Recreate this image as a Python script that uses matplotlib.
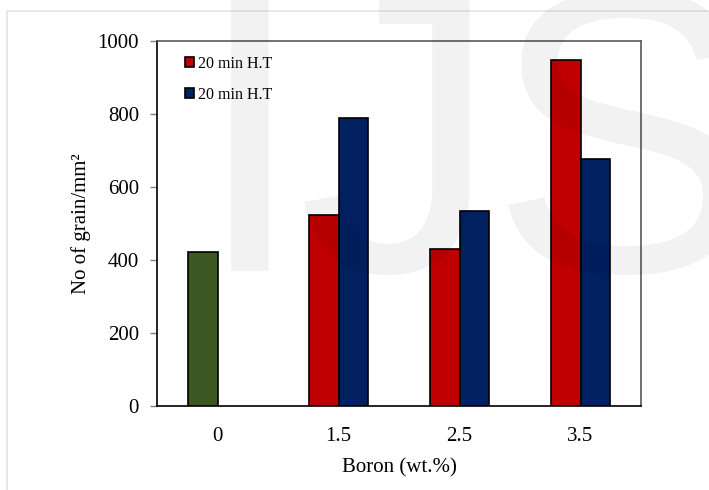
import matplotlib
matplotlib.use("Agg")
import matplotlib.pyplot as plt
from matplotlib.patches import Patch, Rectangle
import numpy as np

categories = ["0", "1.5", "2.5", "3.5"]
series_a = [423, 523, 429, 949]   # first series (green at 0, red elsewhere)
series_b = [np.nan, 790, 534, 676]
legend_labels = ["20 min H.T", "20 min H.T"]
yticks = [0, 200, 400, 600, 800, 1000]

GREEN = "#3A5724"
RED = "#C00000"
BLUE = "#002060"

plt.rcParams['font.family'] = ['Liberation Serif', 'DejaVu Serif']

fig = plt.figure(figsize=(7.09, 4.90), dpi=100)
ax = fig.add_axes([157/709, 84/490, 484/709, 365/490])

x = np.arange(len(categories))
w = 0.24
colors_a = [GREEN] + [RED] * (len(categories) - 1)
ax.bar(x - w/2, series_a, width=w, color=colors_a, edgecolor="black", linewidth=1.2, zorder=3)
ax.bar(x + w/2, series_b, width=w, color=BLUE, edgecolor="black", linewidth=1.2, zorder=3)

ax.set_xlim(-0.5, len(categories) - 0.5)
ax.set_ylim(0, 1000)
ax.set_xticks(x)
ax.set_xticklabels(categories)
ax.set_yticks(yticks)
ax.tick_params(axis='x', length=0, pad=15, labelsize=15)
ax.tick_params(axis='y', length=5, width=1, color="#808080", pad=8, labelsize=15, direction='out')

for s in ['top', 'right']:
    ax.spines[s].set_color("#595959")
    ax.spines[s].set_linewidth(1.2)
for s in ['left', 'bottom']:
    ax.spines[s].set_color("black")
    ax.spines[s].set_linewidth(1.2)

ax.set_xlabel("Boron (wt.%)", fontsize=15, labelpad=9)
ax.set_ylabel("No of grain/mm²", fontsize=15, labelpad=5)

handles = [Patch(facecolor=RED, edgecolor="black", linewidth=1.2),
           Patch(facecolor=BLUE, edgecolor="black", linewidth=1.2)]
leg = ax.legend(handles, legend_labels, loc='upper left', bbox_to_anchor=(0.058, 0.96),
                frameon=False, fontsize=11.5, handlelength=0.55, handleheight=0.55,
                handletextpad=0.25, labelspacing=0.95, borderpad=0, borderaxespad=0)

# figure border
fig.add_artist(Rectangle((7/709, -0.1), 1.2, (490-11)/490 + 0.1, transform=fig.transFigure,
                         fill=False, edgecolor="#E4E4E4", linewidth=1.2, zorder=0))

# watermark letters
for letter, px in [("I", 194), ("J", 298), ("S", 490)]:
    fig.text(px/709, 1 - 271/490, letter, fontsize=290, family="Liberation Sans",
             color="black", alpha=0.05, ha='left', va='baseline', zorder=10)

fig.savefig("out.png", dpi=100)
